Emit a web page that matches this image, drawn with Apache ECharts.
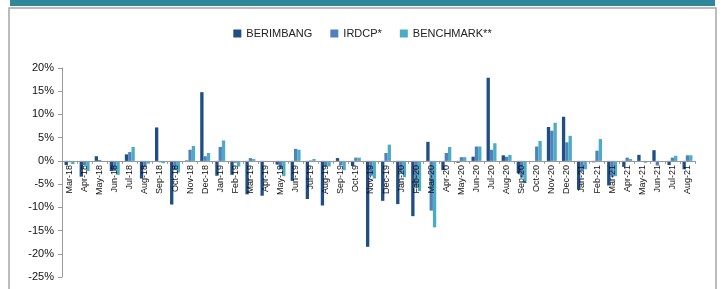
<!DOCTYPE html>
<html><head><meta charset="utf-8">
<script src="https://cdn.jsdelivr.net/npm/echarts@6/dist/echarts.min.js"></script>
<style>html,body{margin:0;padding:0;background:#fff}#c{width:725px;height:289px}</style>
</head><body><div id="c"></div>
<script>
const categories = ["Mar-18","Apr-18","May-18","Jun-18","Jul-18","Aug-18","Sep-18","Oct-18","Nov-18","Dec-18","Jan-19","Feb-19","Mar-19","Apr-19","May-19","Jun-19","Jul-19","Aug-19","Sep-19","Oct-19","Nov-19","Dec-19","Jan-20","Feb-20","Mar-20","Apr-20","May-20","Jun-20","Jul-20","Aug-20","Sep-20","Oct-20","Nov-20","Dec-20","Jan-21","Feb-21","Mar-21","Apr-21","May-21","Jun-21","Jul-21","Aug-21"];
const berimbang = [-0.9,-3.4,1.0,-2.2,1.4,-3.8,7.2,-9.4,0.1,14.8,-3.2,-3.0,-7.2,-7.5,-0.8,-4.3,-8.2,-9.6,0.6,-1.1,-18.5,-8.6,-9.3,-11.9,4.1,-2.0,-0.4,0.9,17.9,1.2,-2.7,0.0,7.3,9.5,-6.2,-0.3,-5.3,-1.3,1.3,2.3,-0.9,-1.8];
const irdcp = [-0.3,-0.9,0.2,-2.2,1.9,-1.4,-0.3,-2.0,2.4,1.0,3.0,-0.4,0.6,-0.1,-1.8,2.6,0.1,-1.2,-0.9,0.7,-3.2,1.7,-2.8,-5.5,-10.7,1.7,0.8,3.1,2.4,0.9,-3.6,3.1,6.5,4.0,-2.3,2.2,-3.5,0.7,0.0,-1.0,0.7,1.2];
const benchmark = [-0.7,-2.2,0.0,-3.0,3.0,-0.6,-0.5,-2.5,3.2,1.7,4.4,-1.2,0.4,-0.1,-3.3,2.4,0.4,-1.2,-2.0,0.7,-3.8,3.5,-3.5,-6.5,-14.3,3.0,0.8,3.1,3.8,1.3,-4.8,4.3,8.2,5.4,-1.8,4.7,-3.3,0.4,-0.4,0.0,1.1,1.2];
const yTicks = {min:-25, max:20, interval:5};

const chart = echarts.init(document.getElementById('c'), null, {renderer:'canvas'});
const font = "'Liberation Sans', Arial, sans-serif";
const H = 289, gridBottom = 12;
chart.setOption({
  animation:false,
  color:['#1F4E85','#4F81BD','#4BACC6'],
  graphic:[
    {type:'rect', shape:{x:10,y:0,width:705,height:6}, style:{fill:'#2F8799'}},
    {type:'rect', shape:{x:9,y:8,width:707,height:300}, style:{fill:'none',stroke:'#A6A6A6',lineWidth:1.5}}
  ],
  legend:{
    top:23, left:'center', itemWidth:8, itemHeight:8, itemGap:18, icon:'rect',
    textStyle:{fontFamily:font,fontSize:11,color:'#222'},
    data:['BERIMBANG','IRDCP*','BENCHMARK**']
  },
  grid:{left:62,right:30,top:68,bottom:gridBottom,outerBoundsMode:'none',containLabel:false},
  xAxis:{
    type:'category', data:categories, z:5,
    axisLine:{onZero:true,lineStyle:{color:'#999',width:1}},
    axisTick:{show:true,length:3,lineStyle:{color:'#999'}},
    axisLabel:{rotate:90,fontFamily:font,fontSize:9,color:'#111',interval:0,margin:4}
  },
  yAxis:{
    type:'value', min:yTicks.min, max:yTicks.max, interval:yTicks.interval,
    splitLine:{show:false},
    axisLine:{show:true,lineStyle:{color:'#999'}},
    axisTick:{show:true,length:4,lineStyle:{color:'#999'}},
    axisLabel:{formatter:'{value}%',fontFamily:font,fontSize:11,color:'#111',margin:8}
  },
  series:[
    {name:'BERIMBANG',type:'bar',data:berimbang,barGap:'0%',barCategoryGap:'34%'},
    {name:'IRDCP*',type:'bar',data:irdcp,barGap:'0%',barCategoryGap:'34%'},
    {name:'BENCHMARK**',type:'bar',data:benchmark,barGap:'0%',barCategoryGap:'34%'}
  ]
});
// Labels sit at the grid bottom; lift them to just under the zero line found through the value scale
const zeroY = chart.convertToPixel({yAxisIndex:0}, 0);
const bottomY = H - gridBottom;
chart.setOption({xAxis:{axisLabel:{margin: 4 - (bottomY - zeroY)}}});
</script></body></html>
